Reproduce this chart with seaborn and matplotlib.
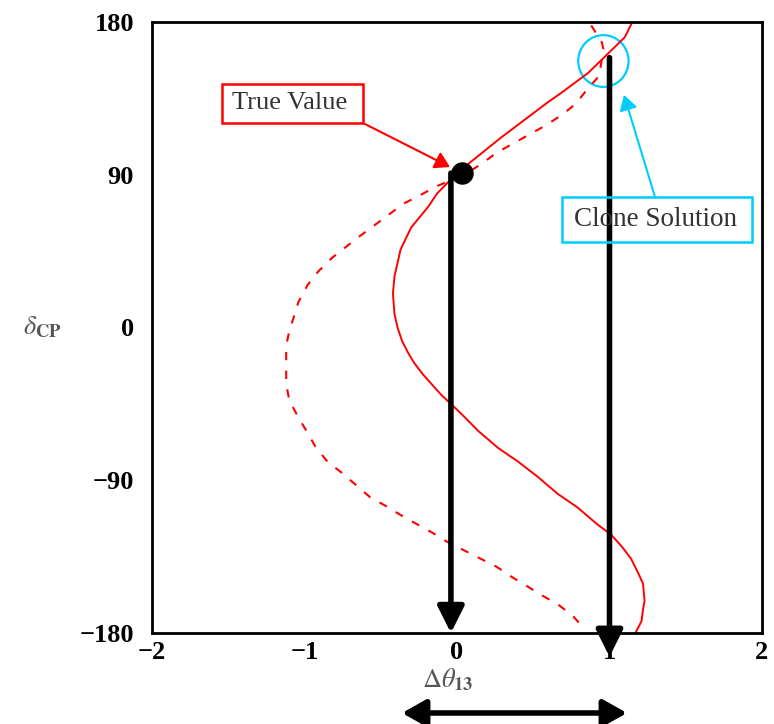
import numpy as np
import pandas as pd
import matplotlib
matplotlib.use("Agg")
import matplotlib.pyplot as plt
from matplotlib.patches import Rectangle, Ellipse, FancyArrowPatch
import seaborn as sns

# ---- data ----
solid_x = [1.15, 1.10, 1.02, 0.94, 0.86, 0.77, 0.68, 0.60, 0.29, 0.00, -0.13, -0.19,
           -0.30, -0.37, -0.39, -0.41, -0.42, -0.41, -0.39, -0.36, -0.32, -0.28, -0.22,
           -0.17, -0.10, -0.04, 0.03, 0.14, 0.27, 0.40, 0.53, 0.66, 0.79, 0.92, 1.01,
           1.08, 1.14, 1.19, 1.22, 1.23, 1.22, 1.21, 1.17]
solid_d = [180, 171, 164, 157, 150, 144, 138, 133, 112, 91, 79, 71,
           59, 46, 38, 30, 20, 8, 0, -8, -15, -21, -28,
           -33, -40, -45, -51, -61, -71, -79, -88, -98, -106, -116, -122,
           -129, -136, -145, -151, -161, -166, -173, -180]

dashed_x = [0.88, 0.95, 0.96, 0.95, 0.93, 0.86, 0.78, 0.70, 0.58, 0.40, 0.26, 0.17, 0.05,
            -0.14, -0.24, -0.35, -0.50, -0.65, -0.82, -0.91, -0.98, -1.04, -1.06, -1.10,
            -1.12, -1.12, -1.12, -1.10, -1.04, -0.98, -0.93, -0.85, -0.75, -0.66, -0.57,
            -0.47, -0.36, -0.26, -0.16, -0.07, 0.04, 0.15, 0.26, 0.36, 0.47, 0.56, 0.66,
            0.76, 0.81]
dashed_d = [178, 168, 164, 158, 148, 141, 132, 126, 119, 110, 103, 97, 90,
            83, 78, 73, 63, 53, 41, 33, 25, 15, 9, -2,
            -11, -22, -33, -43, -53, -62, -70, -79, -86, -93, -100,
            -105, -111, -116, -121, -126, -131, -136, -141, -147, -153, -158, -163,
            -170, -175]

true_x, true_d = 0.03, 91
arrow_true_x = -0.04
arrow_clone_x = 1.0
clone_d = 159
circle_center = (0.96, 157)

x_ticks = [-2, -1, 0, 1, 2]
x_tick_labels = ["\u22122", "\u22121", "0", "1", "2"]
y_ticks = [-180, -90, 0, 90, 180]
y_tick_labels = ["\u2212180", "\u221290", "0", "90", "180"]

# ---- figure ----
sns.set_style("white")
plt.rcParams["font.family"] = ["Liberation Serif", "DejaVu Serif"]
plt.rcParams["mathtext.fontset"] = "stix"

W, H = 774, 724
fig = plt.figure(figsize=(W / 100, H / 100), dpi=100)
ax = fig.add_axes([152 / W, 1 - 633 / H, (762 - 152) / W, (633 - 22) / H])

df_s = pd.DataFrame({"x": solid_x, "d": solid_d})
df_d = pd.DataFrame({"x": dashed_x, "d": dashed_d})
sns.lineplot(data=df_s, x="x", y="d", sort=False, ax=ax, color="#ff0000", lw=1.4, estimator=None)
sns.lineplot(data=df_d, x="x", y="d", sort=False, ax=ax, color="#ff0000", lw=1.5,
             estimator=None, linestyle=(0, (4, 5)))

ax.set_xlim(-2, 2)
ax.set_ylim(-180, 180)
ax.set_xticks(x_ticks)
ax.set_xticklabels(x_tick_labels)
ax.set_yticks(y_ticks)
ax.set_yticklabels(y_tick_labels)
ax.tick_params(direction="in", length=3, width=2, labelsize=19, colors="black")
ax.tick_params(axis="y", pad=13)
ax.tick_params(axis="x", pad=6)
for lab in ax.get_xticklabels() + ax.get_yticklabels():
    lab.set_fontweight("bold")
ax.set_xlabel("")
ax.set_ylabel("")
for s in ax.spines.values():
    s.set_color("black")
    s.set_linewidth(2)

# black arrows
ax.annotate("", xy=(arrow_true_x, -180), xytext=(arrow_true_x, true_d),
            arrowprops=dict(arrowstyle="-|>,head_length=0.8,head_width=0.4", lw=4, color="black",
                            mutation_scale=20, shrinkA=0, shrinkB=0))
ax.annotate("", xy=(arrow_clone_x, -194), xytext=(arrow_clone_x, clone_d),
            arrowprops=dict(arrowstyle="-|>,head_length=0.8,head_width=0.4", lw=4, color="black",
                            mutation_scale=20, shrinkA=0, shrinkB=0), annotation_clip=False)
ax.scatter([true_x], [true_d], s=230, color="black", zorder=5)

# cyan circle
ax.add_patch(Ellipse(circle_center, 0.33, 30.5, fill=False, edgecolor="#00ccff", lw=1.6))

def fp(px, py):
    return (px / W, 1 - py / H)

# True Value box
fig.patches.append(Rectangle(fp(222, 123), 141 / W, 39 / H, transform=fig.transFigure,
                             fill=False, edgecolor="#ff0000", lw=1.8))
fig.text(*fp(290, 103), "True Value", ha="center", va="center", fontsize=19, color="#333333")
fig.add_artist(FancyArrowPatch(fp(365, 124), fp(450, 167), transform=fig.transFigure,
                               arrowstyle="-|>,head_length=0.5,head_width=0.3",
                               mutation_scale=18, color="#ff0000", lw=1.5, shrinkA=0, shrinkB=0))

# Clone Solution box
fig.patches.append(Rectangle(fp(562, 242), 190 / W, 45 / H, transform=fig.transFigure,
                             fill=False, edgecolor="#00ccff", lw=1.8))
fig.text(*fp(656, 220), "Clone Solution", ha="center", va="center", fontsize=19.5, color="#333333")
fig.add_artist(FancyArrowPatch(fp(655, 197), fp(624, 95), transform=fig.transFigure,
                               arrowstyle="-|>,head_length=0.5,head_width=0.3",
                               mutation_scale=18, color="#00ccff", lw=1.5, shrinkA=0, shrinkB=0))

# double-headed arrow below
fig.add_artist(FancyArrowPatch(fp(402, 713), fp(627, 713), transform=fig.transFigure,
                               arrowstyle="<|-|>,head_length=0.8,head_width=0.45",
                               mutation_scale=18, color="black", lw=4, shrinkA=0, shrinkB=0))

# axis labels
fig.text(*fp(42, 327), r"$\delta_{\mathbf{CP}}$", ha="center", va="center", fontsize=19, color="#555555")
fig.text(*fp(448, 680), r"$\Delta\theta_{\mathbf{13}}$", ha="center", va="center", fontsize=19, color="#555555")

fig.savefig("out.png", dpi=100)
